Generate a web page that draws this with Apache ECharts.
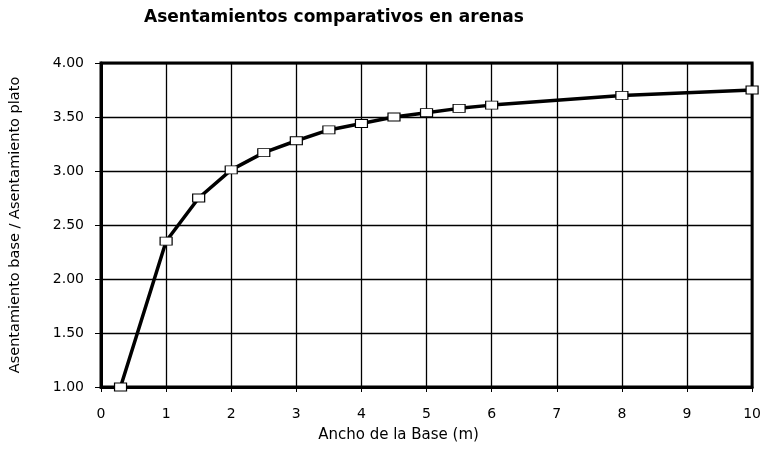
<!DOCTYPE html>
<html>
<head>
<meta charset="utf-8">
<script src="https://cdn.jsdelivr.net/npm/echarts@6/dist/echarts.min.js"></script>
<style>html,body{margin:0;padding:0;background:#fff}#c{width:764px;height:451px}</style>
</head>
<body>
<div id="c"></div>
<script>
var widths = [0.3, 1, 1.5, 2, 2.5, 3, 3.5, 4, 4.5, 5, 5.5, 6, 8, 10];
var ratios = [1.00, 2.35, 2.75, 3.01, 3.17, 3.28, 3.38, 3.44, 3.50, 3.54, 3.58, 3.61, 3.70, 3.75];
var titleText = 'Asentamientos comparativos en arenas';
var xName = 'Ancho de la Base (m)';
var yName = 'Asentamiento base / Asentamiento plato';

var font = 'DejaVu Sans, sans-serif';
var chart = echarts.init(document.getElementById('c'), null, {renderer: 'canvas'});
chart.setOption({
  animation: false,
  backgroundColor: '#fff',
  title: {
    text: titleText, left: 329, top: 4, textAlign: 'center',
    textStyle: {fontFamily: font, fontSize: 17, fontWeight: 'bold', color: '#000'}
  },
  grid: {left: 100, right: 7, top: 63, bottom: 64, show: true, borderColor: '#000', borderWidth: 3, backgroundColor: 'transparent'},
  xAxis: {
    type: 'value', min: 0, max: 10, interval: 1,
    name: xName, nameLocation: 'middle', nameGap: 41,
    nameTextStyle: {fontFamily: font, fontSize: 15, color: '#000', padding: [0, 56, 0, 0]},
    axisLine: {show: true, lineStyle: {color: '#000', width: 3}},
    axisTick: {show: true, length: 5, lineStyle: {color: '#000', width: 1}},
    axisLabel: {fontFamily: font, fontSize: 14, color: '#000', margin: 20},
    splitLine: {show: true, lineStyle: {color: '#000', width: 1.3}}
  },
  yAxis: {
    type: 'value', min: 1, max: 4, interval: 0.5,
    name: yName, nameLocation: 'middle', nameGap: 78, nameRotate: 90,
    nameTextStyle: {fontFamily: font, fontSize: 14.5, color: '#000'},
    axisLine: {show: true, lineStyle: {color: '#000', width: 3}},
    axisTick: {show: true, length: 6, lineStyle: {color: '#000', width: 1}},
    axisLabel: {fontFamily: font, fontSize: 14, color: '#000', margin: 17,
      formatter: function (v) { return v.toFixed(2); }},
    splitLine: {show: true, lineStyle: {color: '#000', width: 1.3}}
  },
  series: [{
    type: 'line',
    data: widths.map(function (w, i) { return [w, ratios[i]]; }),
    clip: false,
    lineStyle: {color: '#000', width: 3.5},
    symbol: 'rect', symbolSize: [12, 8],
    itemStyle: {color: '#fff', borderColor: '#000', borderWidth: 1},
    z: 5
  }]
});
</script>
</body>
</html>
